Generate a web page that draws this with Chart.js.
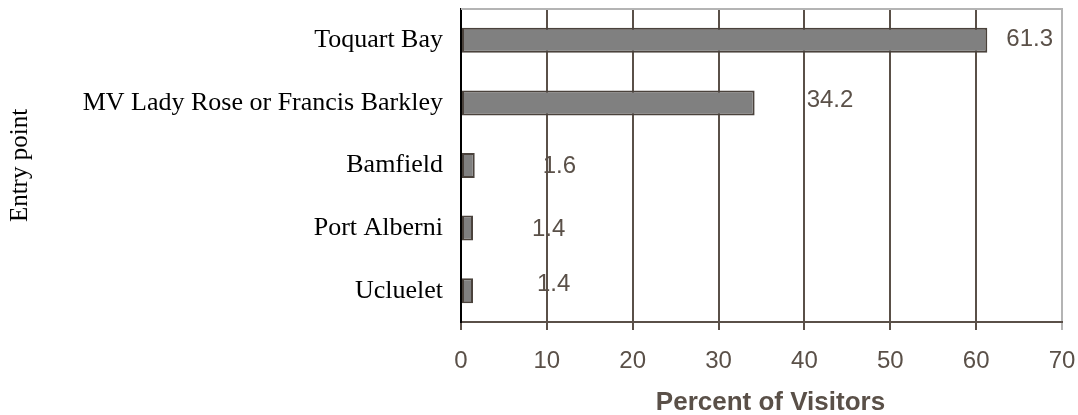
<!DOCTYPE html>
<html>
<head>
<meta charset="utf-8">
<script src="https://cdn.jsdelivr.net/npm/chart.js@4.4.1/dist/chart.umd.min.js"></script>
<style>
  html, body { margin: 0; padding: 0; background: #ffffff; }
  #wrap { width: 1078px; height: 415px; position: relative; }
</style>
</head>
<body>
<div id="wrap"><canvas id="chart" width="1078" height="415"></canvas></div>
<script>
// Entry points and share of visitors (%)
const entryPoints = ['Toquart Bay', 'MV Lady Rose or Francis Barkley', 'Bamfield', 'Port Alberni', 'Ucluelet'];
const visitorPercent = [61.3, 34.2, 1.6, 1.4, 1.4];
const xTicks = [0, 10, 20, 30, 40, 50, 60, 70];
const xTitle = 'Percent of Visitors';

// Pixel nudges for each value label, relative to the end of its bar
const labelNudges = [[19, -1], [52, -3], [68, 1], [59, 1], [64, -6]];

const INK = '#5a5048';
const LIGHT = '#b4b4b4';
const SANS = '"Liberation Sans", Arial, sans-serif';
const SERIF = '"Liberation Serif", "Times New Roman", serif';

const frameAndLabels = {
  id: 'frameAndLabels',
  afterDatasetsDraw(chart) {
    const { ctx, chartArea, scales } = chart;
    ctx.save();
    // light top edge of the plot frame
    ctx.strokeStyle = LIGHT;
    ctx.lineWidth = 2;
    ctx.beginPath();
    ctx.moveTo(chartArea.left, chartArea.top);
    ctx.lineTo(chartArea.right + 1, chartArea.top);
    ctx.stroke();

    // value labels next to the bars
    const meta = chart.getDatasetMeta(0);
    ctx.fillStyle = INK;
    ctx.font = '24px ' + SANS;
    ctx.textAlign = 'left';
    ctx.textBaseline = 'middle';
    meta.data.forEach((bar, i) => {
      const v = visitorPercent[i];
      const x = scales.x.getPixelForValue(v) + labelNudges[i][0];
      const y = bar.y + labelNudges[i][1];
      ctx.fillText(v.toFixed(1), x, y);
    });

    // horizontal axis title, sitting a little right of the plot centre
    ctx.font = 'bold 26px ' + SANS;
    ctx.textAlign = 'center';
    ctx.textBaseline = 'middle';
    ctx.fillText(xTitle, (chartArea.left + chartArea.right) / 2 + 9, scales.x.bottom - 12);
    ctx.restore();
  }
};

new Chart(document.getElementById('chart'), {
  type: 'bar',
  data: {
    labels: entryPoints,
    datasets: [{
      data: visitorPercent,
      backgroundColor: '#808080',
      borderColor: '#4a423c',
      borderWidth: 2,
      borderSkipped: false,
      barPercentage: 0.4,
      categoryPercentage: 1.0
    }]
  },
  options: {
    indexAxis: 'y',
    responsive: false,
    animation: false,
    devicePixelRatio: 1,
    layout: { padding: { top: 9, right: 16, left: 0, bottom: 0 } },
    plugins: { legend: { display: false }, tooltip: { enabled: false } },
    scales: {
      x: {
        type: 'linear',
        min: 0,
        max: 70,
        afterBuildTicks(scale) { scale.ticks = xTicks.map(v => ({ value: v })); },
        afterFit(scale) {
          scale.height = 93;
          scale.paddingLeft = 0;
          scale.paddingRight = 0;
        },
        grid: {
          color: c => (c.tick && c.tick.value === 70 ? LIGHT : INK),
          tickColor: c => (c.tick && c.tick.value === 70 ? LIGHT : INK),
          lineWidth: 2,
          tickLength: 8
        },
        border: { display: true, color: INK, width: 2 },
        ticks: {
          color: INK,
          font: { family: SANS, size: 24 },
          padding: 17,
          maxRotation: 0
        },
        title: { display: false }
      },
      y: {
        afterFit(scale) {
          scale.width = 461;
          scale.paddingTop = 0;
          scale.paddingBottom = 0;
        },
        grid: { display: true, drawOnChartArea: false, drawTicks: false, color: 'rgba(0,0,0,0)' },
        border: { display: true, color: '#000000', width: 2 },
        ticks: {
          color: '#000000',
          font: { family: SERIF, size: 26 },
          padding: 18
        },
        title: {
          display: true,
          text: 'Entry point',
          color: '#000000',
          font: { family: SERIF, size: 25, lineHeight: 1.2 },
          padding: { top: 5, bottom: 0 }
        }
      }
    }
  },
  plugins: [frameAndLabels]
});
</script>
</body>
</html>
